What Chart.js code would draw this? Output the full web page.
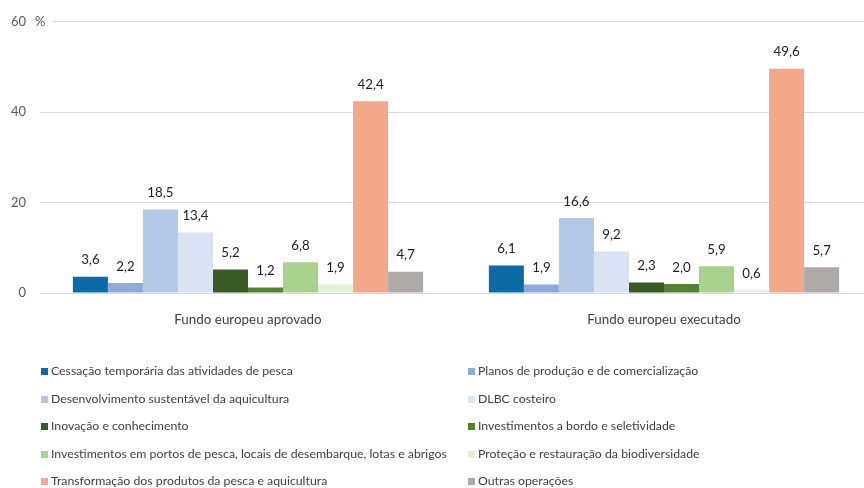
<!DOCTYPE html>
<html>
<head>
<meta charset="utf-8">
<script src="https://cdn.jsdelivr.net/npm/chart.js@4"></script>
<style>
  html, body { margin: 0; padding: 0; background: #fff; overflow: hidden; width: 864px; height: 488px; }
  #wrap { position: absolute; left: 0; top: 0; width: 872px; height: 340px; }
  #legend { position: absolute; left: 0; top: 0; width: 864px; height: 488px; pointer-events: none;
            font-family: Lato, "Open Sans", sans-serif; font-size: 12.3px; color: #404040; }
  .item { position: absolute; white-space: nowrap; line-height: 14px; }
  .box { display: inline-block; width: 7px; height: 7px; margin-right: 3px; vertical-align: 0px; }
</style>
</head>
<body>
<div id="wrap"><canvas id="c" width="872" height="340"></canvas></div>
<div id="legend"></div>
<script>
const categories = ["Fundo europeu aprovado", "Fundo europeu executado"];
const seriesNames = [
  "Cessação temporária das atividades de pesca",
  "Planos de produção e de comercialização",
  "Desenvolvimento sustentável da aquicultura",
  "DLBC costeiro",
  "Inovação e conhecimento",
  "Investimentos a bordo e seletividade",
  "Investimentos em portos de pesca, locais de desembarque, lotas e abrigos",
  "Proteção e restauração da biodiversidade",
  "Transformação dos produtos da pesca e aquicultura",
  "Outras operações"
];
const aprovado  = [3.6, 2.2, 18.5, 13.4, 5.2, 1.2, 6.8, 1.9, 42.4, 4.7];
const executado = [6.1, 1.9, 16.6, 9.2, 2.3, 2.0, 5.9, 0.6, 49.6, 5.7];
const yTicks = [0, 20, 40, 60];
const colors = ["#0e6aa5", "#8eaadb", "#b4c7e7", "#dae3f3", "#3a5a25",
                "#548235", "#a9d18e", "#e2f0d9", "#f2a98b", "#aeaaaa"];

const datasets = seriesNames.map((name, i) => ({
  label: name,
  data: [aprovado[i], executado[i]],
  backgroundColor: colors[i],
  borderWidth: 0,
  categoryPercentage: 0.842,
  barPercentage: 1.0
}));

const FONT = 'Lato, "Open Sans", sans-serif';

const labelPlugin = {
  id: 'valueLabels',
  afterDatasetsDraw(chart) {
    const ctx = chart.ctx;
    ctx.save();
    ctx.font = '13.3px ' + FONT;
    ctx.fillStyle = '#222';
    ctx.textAlign = 'center';
    ctx.textBaseline = 'bottom';
    chart.data.datasets.forEach((ds, di) => {
      const meta = chart.getDatasetMeta(di);
      meta.data.forEach((bar, j) => {
        const v = ds.data[j];
        ctx.fillText(v.toFixed(1).replace('.', ','), bar.x, bar.y - 10);
      });
    });
    // % unit next to the top tick
    const y = chart.scales.y.getPixelForValue(60);
    ctx.fillStyle = '#fff';
    ctx.fillRect(31, y - 8, 21, 16);
    ctx.fillStyle = '#595959';
    ctx.textAlign = 'left';
    ctx.textBaseline = 'middle';
    ctx.font = '13px ' + FONT;
    ctx.fillText('%', 35, y);
    ctx.restore();
  }
};

new Chart(document.getElementById('c'), {
  type: 'bar',
  data: { labels: categories, datasets },
  options: {
    responsive: false,
    animation: false,
    devicePixelRatio: 1,
    layout: { padding: { top: 21, right: 0, left: 0, bottom: 0 } },
    plugins: { legend: { display: false }, tooltip: { enabled: false } },
    scales: {
      x: {
        grid: { display: false },
        border: { display: false },
        ticks: { color: '#404040', font: { family: FONT, size: 13.4 }, padding: 11 },
        afterFit(s) { s.height = 47; }
      },
      y: {
        min: 0, max: 60,
        afterBuildTicks(s) { s.ticks = yTicks.map(v => ({ value: v })); },
        grid: { color: '#d9d9d9', lineWidth: 1, drawTicks: false },
        border: { display: false },
        ticks: { color: '#595959', font: { family: FONT, size: 13 }, padding: 14 },
        afterFit(s) { s.width = 40; }
      }
    }
  },
  plugins: [labelPlugin]
});

// HTML legend, two columns, row-major order
const legend = document.getElementById('legend');
const rowY = [371, 398.5, 426, 453.5, 481];
const colX = [41, 468];
seriesNames.forEach((name, i) => {
  const d = document.createElement('div');
  d.className = 'item';
  d.style.left = colX[i % 2] + 'px';
  d.style.top = (rowY[Math.floor(i / 2)] - 7) + 'px';
  const b = document.createElement('span');
  b.className = 'box';
  b.style.background = colors[i];
  d.appendChild(b);
  d.appendChild(document.createTextNode(name));
  legend.appendChild(d);
});
</script>
</body>
</html>
